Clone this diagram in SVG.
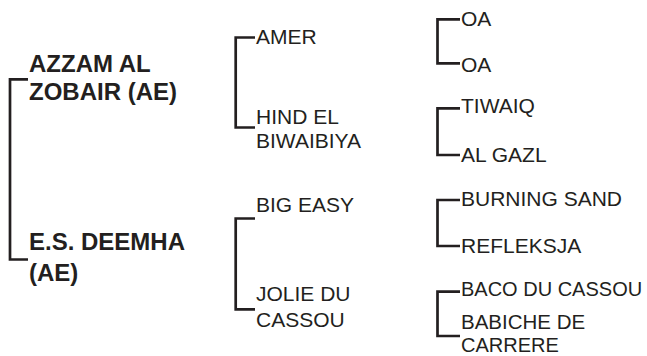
<svg xmlns="http://www.w3.org/2000/svg" width="647" height="356" viewBox="0 0 647 356">
<style>
.c{fill:none;stroke:#231f20;stroke-width:2.7;stroke-linejoin:miter;stroke-linecap:butt}
text{font-family:"Liberation Sans",Arial,Helvetica,sans-serif;fill:#231f20}
.b{font-weight:bold;font-size:24px}
.r{font-size:21px}
</style>
<rect width="647" height="356" fill="#ffffff"/>
<g id="connectors">
<path class="c" d="M28,79.3 H10 V259.5 H28"/>
<path class="c" d="M255,37.5 H235.7 V127.5 H255"/>
<path class="c" d="M255,218.5 H235.7 V309.3 H255"/>
<path class="c" d="M460,19.3 H437.5 V63.3 H460"/>
<path class="c" d="M460,108.3 H437.5 V155 H460"/>
<path class="c" d="M460,200 H437.5 V246 H460"/>
<path class="c" d="M460,291.7 H437.5 V336 H460"/>
</g>
<g id="sire"><text class="b" x="29" y="72">AZZAM AL</text><text class="b" x="29" y="100">ZOBAIR (AE)</text></g>
<g id="dam"><text class="b" x="29" y="250">E.S. DEEMHA</text><text class="b" x="29" y="281">(AE)</text></g>
<g id="ss"><text class="r" x="256" y="43.5">AMER</text></g>
<g id="sd"><text class="r" x="256" y="124">HIND EL</text><text class="r" x="256" y="147.5">BIWAIBIYA</text></g>
<g id="ds"><text class="r" x="256" y="211.5">BIG EASY</text></g>
<g id="dd"><text class="r" x="256" y="300.5">JOLIE DU</text><text class="r" x="256" y="326.5">CASSOU</text></g>
<g id="sss"><text class="r" x="461" y="26">OA</text></g>
<g id="ssd"><text class="r" x="461" y="71.7">OA</text></g>
<g id="sds"><text class="r" x="461" y="113.3">TIWAIQ</text></g>
<g id="sdd"><text class="r" x="461" y="161.7">AL GAZL</text></g>
<g id="dss"><text class="r" x="461" y="206">BURNING SAND</text></g>
<g id="dsd"><text class="r" x="461" y="252.7">REFLEKSJA</text></g>
<g id="dds"><text class="r" x="461" y="296" style="font-size:20px">BACO DU CASSOU</text></g>
<g id="ddd"><text class="r" x="461" y="329" style="font-size:20.5px">BABICHE DE</text><text class="r" x="461" y="351.5" style="font-size:20px">CARRERE</text></g>
</svg>
